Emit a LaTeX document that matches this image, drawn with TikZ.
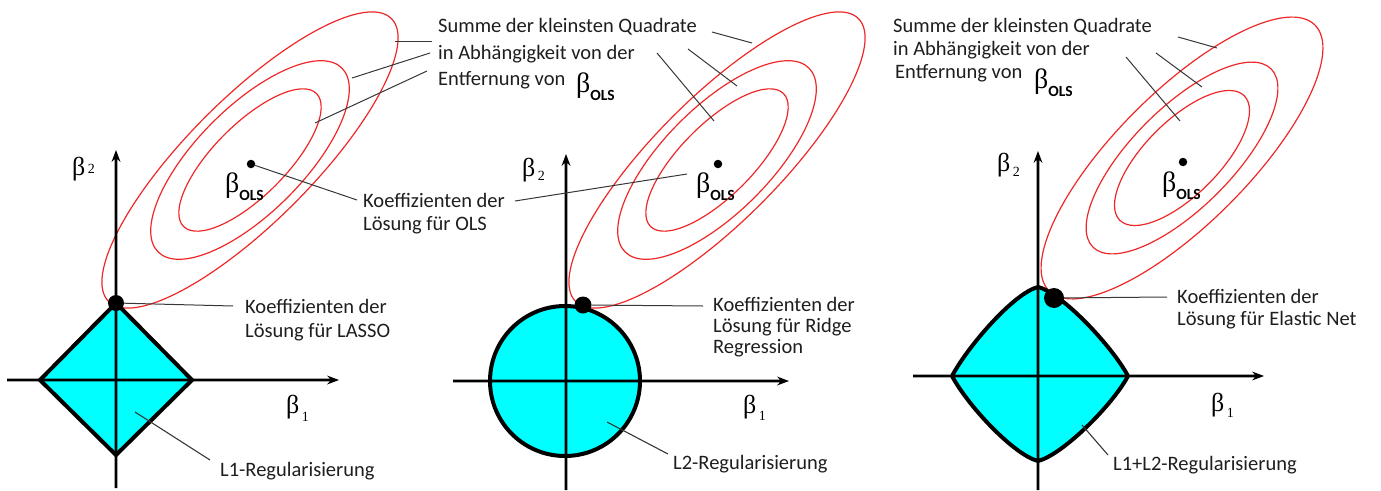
\documentclass[tikz,border=0pt]{standalone}
\usepackage{fontspec}
\setmainfont{Carlito}
\newfontfamily\gkfont{Liberation Serif}
\usetikzlibrary{arrows.meta,calc}
\newcommand{\bols}{{\gkfont\fontsize{28}{28}\selectfont β}\raisebox{-8.5pt}{\fontsize{15.5}{15.5}\selectfont\bfseries OLS}}
\newcommand{\bsub}[2]{{\gkfont\fontsize{26}{26}\selectfont β}\kern2.5pt\raisebox{#2}{\gkfont\fontsize{14}{14}\selectfont #1}}
% axis as one filled outline: shaft plus stealth-like head
\newcommand{\vaxis}[2]{\fill ($(#1)+(-1.3,0)$) -- ($(#2)+(-1.3,9)$) -- ($(#2)+(-4.5,12)$) -- (#2) -- ($(#2)+(4.5,12)$) -- ($(#2)+(1.3,9)$) -- ($(#1)+(1.3,0)$) -- cycle;}
\newcommand{\haxis}[2]{\fill ($(#1)+(0,-1.3)$) -- ($(#2)+(-9,-1.3)$) -- ($(#2)+(-12,-4.5)$) -- (#2) -- ($(#2)+(-12,4.5)$) -- ($(#2)+(-9,1.3)$) -- ($(#1)+(0,1.3)$) -- cycle;}
% thin leader line drawn as a filled, rotated bar node between two named points
\newcommand{\leadbar}[2]{\path let \p1=($(#2)-(#1)$) in node[fill=leadgray, inner sep=0pt, minimum height=1.1pt, minimum width={veclen(\x1,\y1)}, rotate={atan2(\y1,\x1)}] at ($(#1)!0.5!(#2)$) {};}
\definecolor{ellred}{RGB}{238,40,40}
\definecolor{ballcyan}{RGB}{0,255,255}
\definecolor{leadgray}{RGB}{55,55,55}
\definecolor{txtgray}{RGB}{30,30,30}
\begin{document}
\begin{tikzpicture}[x=1pt,y=-1pt,
  txt/.style={anchor=base west, inner sep=0pt, font=\fontsize{20.5}{24}\selectfont, text=txtgray},
  lbl/.style={anchor=base west, inner sep=0pt, text=black},
  lead/.style={draw=leadgray, line width=1pt},
  ell/.style={draw=ellred, line width=1.2pt},
  ball/.style={fill=ballcyan, draw=black, line width=4pt, line join=miter},
  hit/.style={circle, fill=black, inner sep=0pt, minimum size=#1},
  olsdot/.style={circle, fill=black, inner sep=0pt, minimum size=8.5pt}]
\useasboundingbox (0,0) rectangle (1381,490);

% ---------- ellipses ----------
\foreach \cx/\cy in {250/160, 717/160}{
  \draw[ell, rotate around={45:(\cx,\cy)}] (\cx,\cy) ellipse [x radius=200pt, y radius=62pt];
  \draw[ell, rotate around={45:(\cx,\cy)}] (\cx,\cy) ellipse [x radius=130pt, y radius=53pt];
  \draw[ell, rotate around={45:(\cx,\cy)}] (\cx,\cy) ellipse [x radius=94pt, y radius=36pt];
}
\draw[ell, rotate around={45:(1182,158)}] (1182,158) ellipse [x radius=188pt, y radius=66pt];
\draw[ell, rotate around={45:(1182,158)}] (1182,158) ellipse [x radius=126pt, y radius=50pt];
\draw[ell, rotate around={45:(1182,158)}] (1182,158) ellipse [x radius=88pt, y radius=37pt];

% ---------- constraint regions ----------
\draw[ball] (116,303) -- (192,380) -- (116,455) -- (40,380) -- cycle;
\draw[ball] (565,381) circle [radius=75pt];
\draw[ball] (1038,287) .. controls (1062,293) and (1112,346) .. (1128,376)
  .. controls (1112,406) and (1062,455) .. (1038,461)
  .. controls (1014,455) and (968,406) .. (952,376)
  .. controls (968,346) and (1014,293) .. (1038,287) -- cycle;

% ---------- axes ----------
\coordinate (yL0) at (116,488); \coordinate (yL1) at (116,150);
\coordinate (xL0) at (7,380);   \coordinate (xL1) at (339,380);
\coordinate (yM0) at (566,490); \coordinate (yM1) at (566,154);
\coordinate (xM0) at (453,381); \coordinate (xM1) at (789,381);
\coordinate (yR0) at (1038,490); \coordinate (yR1) at (1038,151);
\coordinate (xR0) at (913,376); \coordinate (xR1) at (1264,376);
\vaxis{yL0}{yL1} \haxis{xL0}{xL1}
\vaxis{yM0}{yM1} \haxis{xM0}{xM1}
\vaxis{yR0}{yR1} \haxis{xR0}{xR1}

% ---------- points ----------
\node[hit=16pt] (dotL) at (116,303) {};
\node[hit=17pt] (dotM) at (583,305) {};
\node[hit=20pt] (dotR) at (1054,298) {};
\node[olsdot] (olsL) at (251,164) {};
\node[olsdot] (olsM) at (718,164) {};
\node[olsdot] (olsR) at (1183,162) {};

% ---------- axis labels ----------
\node[lbl] (b2L) at (72,175) {\bsub{2}{2pt}};
\node[lbl] (b2M) at (522,176) {\bsub{2}{-4pt}};
\node[lbl] (b2R) at (997,171) {\bsub{2}{-5pt}};
\node[lbl] (b1L) at (286,413) {\bsub{1}{-8pt}};
\node[lbl] (b1M) at (743,413) {\bsub{1}{-7pt}};
\node[lbl] (b1R) at (1211,411) {\bsub{1}{-6pt}};
\node[lbl] (bolsL) at (225,192) {\bols};
\node[lbl] (bolsM) at (696,192) {\bols};
\node[lbl] (bolsR) at (1162,191) {\bols};

% ---------- texts ----------
\node[txt] (sumA1) at (438,32) {Summe der kleinsten Quadrate};
\node[txt] (sumA2) at (438,59) {in Abhängigkeit von der};
\node[txt] (sumA3) at (438,85) {Entfernung von};
\node[lbl] (sumA4) at (576,92) {\bols};
\node[txt] (sumC1) at (893,32) {Summe der kleinsten Quadrate};
\node[txt] (sumC2) at (893,55) {in Abhängigkeit von der};
\node[txt] (sumC3) at (895,78) {Entfernung von};
\node[lbl] (sumC4) at (1034,88) {\bols};
\node[txt] (kooO1) at (363,207) {Koeffizienten der};
\node[txt] (kooO2) at (363,230) {Lösung für OLS};
\node[txt] (kooL1) at (245,313) {Koeffizienten der};
\node[txt] (kooL2) at (245,337) {Lösung für LASSO};
\node[txt] (kooM1) at (713,311) {Koeffizienten der};
\node[txt] (kooM2) at (713,332) {Lösung für Ridge};
\node[txt] (kooM3) at (713,353) {Regression};
\node[txt] (kooR1) at (1177,303) {Koeffizienten der};
\node[txt] (kooR2) at (1177,325) {Lösung für Elastic Net};
\node[txt] (regL) at (220,476) {L1-Regularisierung};
\node[txt] (regM) at (673,469) {L2-Regularisierung};
\node[txt] (regR) at (1113,470) {L1+L2-Regularisierung};

% ---------- leader lines ----------
\coordinate (eA1) at (395,41);   \coordinate (tA1) at (432,41);
\coordinate (eA2) at (352,78);   \coordinate (tA2) at (430,53);
\coordinate (eA3) at (315,123);  \coordinate (tA3) at (427,71);
\coordinate (eB1) at (752,43);   \coordinate (tB1) at (712,32);
\coordinate (eB2) at (737,86);   \coordinate (tB2) at (688,49);
\coordinate (eB3) at (714,121);  \coordinate (tB3) at (657,53);
\coordinate (eC1) at (1217,48);  \coordinate (tC1) at (1178,37);
\coordinate (eC2) at (1202,87);  \coordinate (tC2) at (1156,53);
\coordinate (eC3) at (1180,121); \coordinate (tC3) at (1126,57);
\coordinate (tO1) at (357,200);  \coordinate (tO2) at (515,201); \coordinate (pO2) at (687,174);
\coordinate (tL) at (233,306);   \coordinate (tM) at (703,306);  \coordinate (tR) at (1167,297);
\coordinate (sL) at (135,412);   \coordinate (gL) at (210,460);
\coordinate (sM) at (607,422);   \coordinate (gM) at (668,454);
\coordinate (sR) at (1082,425);  \coordinate (gR) at (1108,455);
\draw[lead] (eA1) -- (tA1); \draw[lead] (eA2) -- (tA2); \draw[lead] (eA3) -- (tA3);
\draw[lead] (eB1) -- (tB1); \draw[lead] (eB2) -- (tB2); \draw[lead] (eB3) -- (tB3);
\draw[lead] (eC1) -- (tC1); \draw[lead] (eC2) -- (tC2); \draw[lead] (eC3) -- (tC3);
\draw[lead] (olsL) -- (tO1);
\draw[lead] (tO2) -- (pO2);
\draw[lead] (dotL) -- (tL);
\draw[lead] (dotM) -- (tM);
\draw[lead] (dotR) -- (tR);
\leadbar{sL}{gL}
\leadbar{sM}{gM}
\leadbar{sR}{gR}
\end{tikzpicture}
\end{document}
